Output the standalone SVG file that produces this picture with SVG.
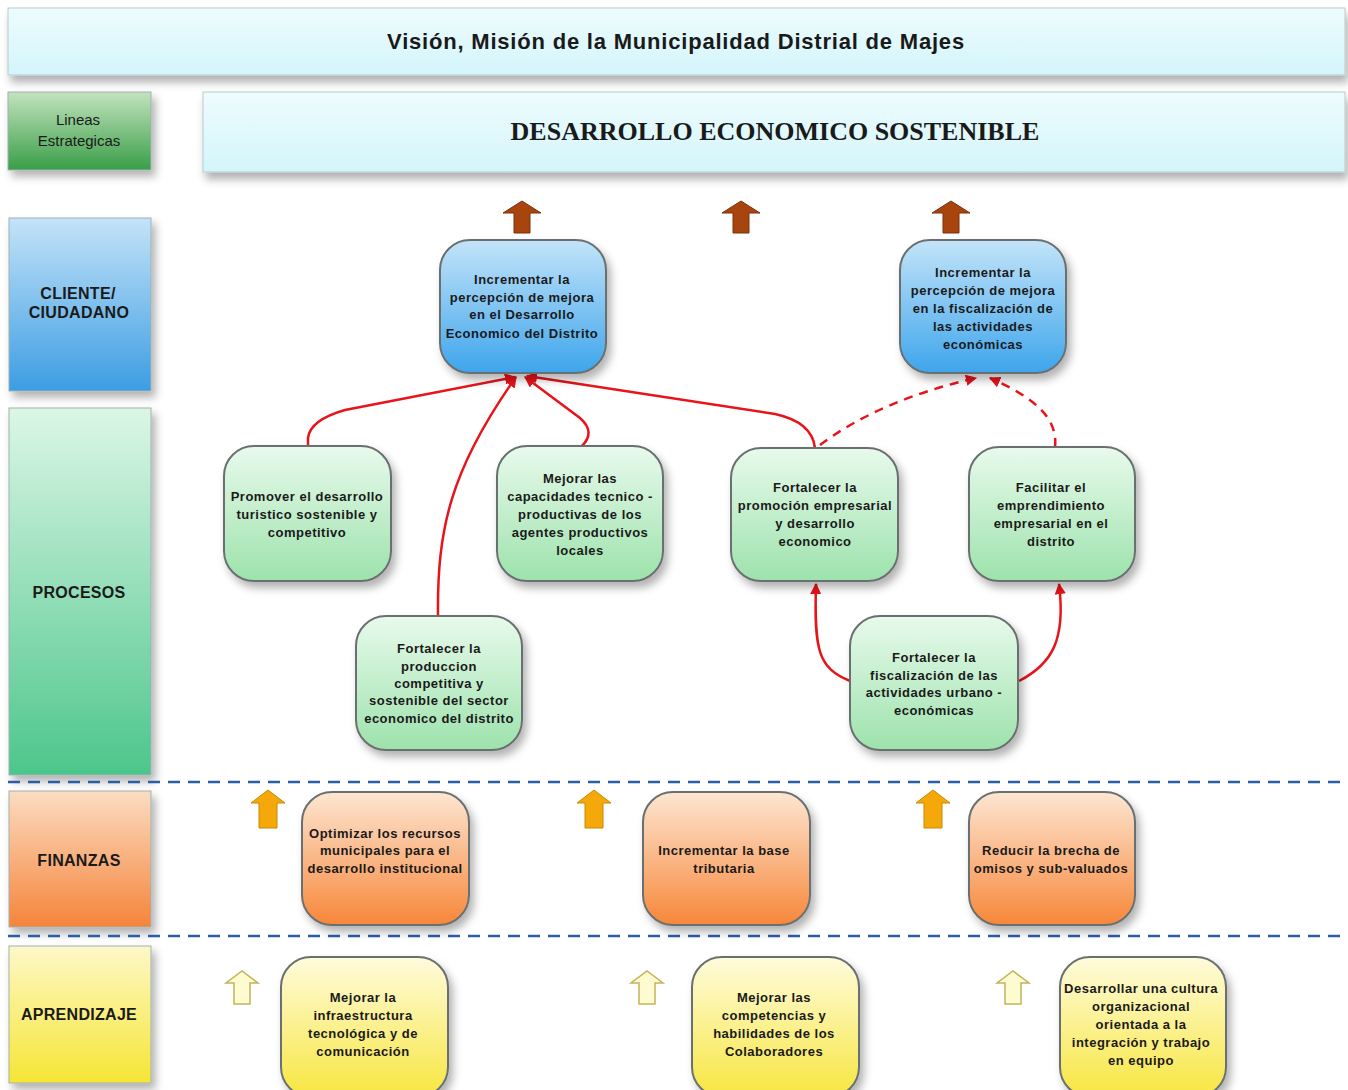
<svg xmlns="http://www.w3.org/2000/svg" width="1348" height="1090" viewBox="0 0 1348 1090">
<defs>
<linearGradient id="gCyan" x1="0" y1="0" x2="0" y2="1"><stop offset="0" stop-color="#eefcfe"/><stop offset="1" stop-color="#d3f5fb"/></linearGradient>
<linearGradient id="gLin" x1="0" y1="0" x2="0" y2="1"><stop offset="0" stop-color="#c2e3bd"/><stop offset="1" stop-color="#3a9e48"/></linearGradient>
<linearGradient id="gCli" x1="0" y1="0" x2="0" y2="1"><stop offset="0" stop-color="#c4e3f8"/><stop offset="1" stop-color="#3c9de3"/></linearGradient>
<linearGradient id="gPro" x1="0" y1="0" x2="0" y2="1"><stop offset="0" stop-color="#dcf6e6"/><stop offset="1" stop-color="#4cc68b"/></linearGradient>
<linearGradient id="gFin" x1="0" y1="0" x2="0" y2="1"><stop offset="0" stop-color="#fcdcc2"/><stop offset="1" stop-color="#f5843a"/></linearGradient>
<linearGradient id="gApr" x1="0" y1="0" x2="0" y2="1"><stop offset="0" stop-color="#fdf8c8"/><stop offset="1" stop-color="#f6e534"/></linearGradient>
<linearGradient id="nBlue" x1="0" y1="0" x2="0" y2="1"><stop offset="0" stop-color="#c3e4f9"/><stop offset="1" stop-color="#3ea5ec"/></linearGradient>
<linearGradient id="nGreen" x1="0" y1="0" x2="0" y2="1"><stop offset="0" stop-color="#e8faec"/><stop offset="1" stop-color="#9de2ac"/></linearGradient>
<linearGradient id="nOrange" x1="0" y1="0" x2="0" y2="1"><stop offset="0" stop-color="#fde6d2"/><stop offset="1" stop-color="#f7873a"/></linearGradient>
<linearGradient id="nYellow" x1="0" y1="0" x2="0" y2="1"><stop offset="0" stop-color="#fffbdc"/><stop offset="1" stop-color="#f7e640"/></linearGradient>
<filter id="sh" x="-20%" y="-20%" width="150%" height="150%"><feDropShadow dx="4" dy="6" stdDeviation="4" flood-color="#000" flood-opacity="0.3"/></filter>
<filter id="shBar" x="-5%" y="-30%" width="110%" height="180%"><feDropShadow dx="3" dy="7" stdDeviation="4" flood-color="#000" flood-opacity="0.3"/></filter>
<marker id="ah" viewBox="0 0 10 10" refX="9" refY="5" markerWidth="4.5" markerHeight="4.5" orient="auto" markerUnits="strokeWidth"><path d="M0,0 L10,5 L0,10 z" fill="#e8141a"/></marker>
</defs>
<style>
.bar{stroke:#b9c9cc;stroke-width:1;filter:url(#shBar)}
.lane{stroke:#9fb0b0;stroke-width:1;filter:url(#sh)}
.node{stroke:#6b7070;stroke-width:2;filter:url(#sh)}
.t{font-family:"Liberation Sans",Arial,sans-serif;font-weight:bold;font-size:13px;letter-spacing:0.5px;fill:#1a1a1a;text-anchor:middle}
.lt{font-family:"Liberation Sans",Arial,sans-serif;font-weight:bold;font-size:16px;letter-spacing:0.3px;fill:#1a1a1a;text-anchor:middle}
.con{fill:none;stroke:#e8141a;stroke-width:2.5;marker-end:url(#ah)}
.dash{stroke-dasharray:9 7}
.sep{stroke:#2a5ea8;stroke-width:2.5;stroke-dasharray:12 8}
.brown{fill:#a8450e;stroke:#7a3008;stroke-width:1}
.orng{fill:#f5a80a;stroke:#c78a00;stroke-width:1}
.ylw{fill:#fffbd0;stroke:#c2b45a;stroke-width:1.5}
</style>

<g id="header">
<rect class="bar" x="8" y="8" width="1337" height="67" fill="url(#gCyan)"/>
<text x="676" y="49" style="font-family:'Liberation Sans',Arial,sans-serif;font-weight:bold;font-size:22px;letter-spacing:0.8px;fill:#1a1a1a;text-anchor:middle">Visión, Misión de la Municipalidad Distrial de Majes</text>
</g>
<g id="lineas">
<rect class="lane" x="8" y="92" width="143" height="78" fill="url(#gLin)"/>
<text x="78" y="125" style="font-family:'Liberation Sans',Arial,sans-serif;font-size:15px;fill:#1a1a1a;text-anchor:middle">Lineas</text>
<text x="79" y="146" style="font-family:'Liberation Sans',Arial,sans-serif;font-size:15px;fill:#1a1a1a;text-anchor:middle">Estrategicas</text>
</g>
<g id="desarrollo">
<rect class="bar" x="203" y="92" width="1142" height="80" fill="url(#gCyan)"/>
<text x="775" y="140" style="font-family:'Liberation Serif','Times New Roman',serif;font-weight:bold;font-size:26px;fill:#1a1a1a;text-anchor:middle">DESARROLLO ECONOMICO SOSTENIBLE</text>
</g>

<g id="lane-cliente"><rect class="lane" x="9" y="218" width="142" height="173" fill="url(#gCli)"/><text class="lt" x="78" y="299">CLIENTE/</text><text class="lt" x="79" y="318">CIUDADANO</text></g>
<g id="lane-procesos"><rect class="lane" x="9" y="408" width="142" height="367" fill="url(#gPro)"/><text class="lt" x="79" y="598">PROCESOS</text></g>
<g id="lane-finanzas"><rect class="lane" x="9" y="791" width="142" height="136" fill="url(#gFin)"/><text class="lt" x="79" y="866">FINANZAS</text></g>
<g id="lane-aprendizaje"><rect class="lane" x="9" y="946" width="142" height="137" fill="url(#gApr)"/><text class="lt" x="79" y="1020">APRENDIZAJE</text></g>

<g id="separators">
<line class="sep" x1="8" y1="782" x2="1340" y2="782"/>
<line class="sep" x1="8" y1="936" x2="1340" y2="936"/>
</g>

<g id="block-arrows">
<path class="brown" d="M514,233 L514,213 L503,213 L522,201 L541,213 L530,213 L530,233 Z"/>
<path class="brown" d="M733,233 L733,213 L722,213 L741,201 L760,213 L749,213 L749,233 Z"/>
<path class="brown" d="M943,233 L943,213 L932,213 L951,201 L970,213 L959,213 L959,233 Z"/>
<path class="orng" d="M259,828 L259,803 L251,803 L268,790 L285,803 L277,803 L277,828 Z"/>
<path class="orng" d="M585,828 L585,803 L577,803 L594,790 L611,803 L603,803 L603,828 Z"/>
<path class="orng" d="M924,828 L924,803 L916,803 L933,790 L950,803 L942,803 L942,828 Z"/>
<path class="ylw" d="M234,1004 L234,983 L226,983 L242,971 L258,983 L250,983 L250,1004 Z"/>
<path class="ylw" d="M639,1004 L639,983 L631,983 L647,971 L663,983 L655,983 L655,1004 Z"/>
<path class="ylw" d="M1005,1004 L1005,983 L997,983 L1013,971 L1029,983 L1021,983 L1021,1004 Z"/>
</g>

<g id="connectors">
<path class="con" d="M308,446 L308,438 Q310,420 345,410 L515,377"/>
<path class="con" d="M438,616 C437,530 450,470 516,377"/>
<path class="con" d="M582,446 Q596,432 580,418 L525,377"/>
<path class="con" d="M815,448 Q812,422 775,414 L527,376"/>
<path class="con dash" d="M820,445 Q880,400 976,378"/>
<path class="con dash" d="M1055,447 C1058,418 1035,398 990,378"/>
<path class="con" d="M850,681 C818,668 814,650 816,584"/>
<path class="con" d="M1019,681 C1052,664 1066,640 1059,584"/>
</g>

<g id="n-cliente1"><rect class="node" x="440" y="240" width="166" height="133" rx="30" fill="url(#nBlue)"/>
<text class="t" x="522" y="284">Incrementar la</text><text class="t" x="522" y="302">percepción de mejora</text><text class="t" x="522" y="319">en el Desarrollo</text><text class="t" x="522" y="338">Economico del Distrito</text></g>
<g id="n-cliente2"><rect class="node" x="900" y="240" width="166" height="133" rx="30" fill="url(#nBlue)"/>
<text class="t" x="983" y="277">Incrementar la</text><text class="t" x="983" y="295">percepción de mejora</text><text class="t" x="983" y="313">en la fiscalización de</text><text class="t" x="983" y="331">las actividades</text><text class="t" x="983" y="349">económicas</text></g>

<g id="n-proc1"><rect class="node" x="224" y="446" width="167" height="135" rx="30" fill="url(#nGreen)"/>
<text class="t" x="307" y="501">Promover el desarrollo</text><text class="t" x="307" y="519">turistico sostenible y</text><text class="t" x="307" y="537">competitivo</text></g>
<g id="n-proc2"><rect class="node" x="497" y="446" width="166" height="135" rx="30" fill="url(#nGreen)"/>
<text class="t" x="580" y="483">Mejorar las</text><text class="t" x="580" y="501">capacidades tecnico -</text><text class="t" x="580" y="519">productivas de los</text><text class="t" x="580" y="537">agentes productivos</text><text class="t" x="580" y="555">locales</text></g>
<g id="n-proc3"><rect class="node" x="731" y="448" width="167" height="133" rx="30" fill="url(#nGreen)"/>
<text class="t" x="815" y="492">Fortalecer la</text><text class="t" x="815" y="510">promoción empresarial</text><text class="t" x="815" y="528">y desarrollo</text><text class="t" x="815" y="546">economico</text></g>
<g id="n-proc4"><rect class="node" x="969" y="447" width="166" height="134" rx="30" fill="url(#nGreen)"/>
<text class="t" x="1051" y="492">Facilitar el</text><text class="t" x="1051" y="510">emprendimiento</text><text class="t" x="1051" y="528">empresarial en el</text><text class="t" x="1051" y="546">distrito</text></g>
<g id="n-proc5"><rect class="node" x="356" y="616" width="166" height="134" rx="30" fill="url(#nGreen)"/>
<text class="t" x="439" y="653">Fortalecer la</text><text class="t" x="439" y="671">produccion</text><text class="t" x="439" y="688">competitiva y</text><text class="t" x="439" y="705">sostenible del sector</text><text class="t" x="439" y="723">economico del distrito</text></g>
<g id="n-proc6"><rect class="node" x="850" y="616" width="168" height="134" rx="30" fill="url(#nGreen)"/>
<text class="t" x="934" y="662">Fortalecer la</text><text class="t" x="934" y="680">fiscalización de las</text><text class="t" x="934" y="697">actividades urbano -</text><text class="t" x="934" y="715">económicas</text></g>

<g id="n-fin1"><rect class="node" x="302" y="792" width="167" height="133" rx="30" fill="url(#nOrange)"/>
<text class="t" x="385" y="838">Optimizar los recursos</text><text class="t" x="385" y="855">municipales para el</text><text class="t" x="385" y="873">desarrollo institucional</text></g>
<g id="n-fin2"><rect class="node" x="643" y="792" width="167" height="133" rx="30" fill="url(#nOrange)"/>
<text class="t" x="724" y="855">Incrementar la base</text><text class="t" x="724" y="873">tributaria</text></g>
<g id="n-fin3"><rect class="node" x="969" y="792" width="166" height="133" rx="30" fill="url(#nOrange)"/>
<text class="t" x="1051" y="855">Reducir la brecha de</text><text class="t" x="1051" y="873">omisos y sub-valuados</text></g>

<g id="n-apr1"><rect class="node" x="281" y="957" width="167" height="140" rx="30" fill="url(#nYellow)"/>
<text class="t" x="363" y="1002">Mejorar la</text><text class="t" x="363" y="1020">infraestructura</text><text class="t" x="363" y="1038">tecnológica y de</text><text class="t" x="363" y="1056">comunicación</text></g>
<g id="n-apr2"><rect class="node" x="692" y="957" width="167" height="140" rx="30" fill="url(#nYellow)"/>
<text class="t" x="774" y="1002">Mejorar las</text><text class="t" x="774" y="1020">competencias y</text><text class="t" x="774" y="1038">habilidades de los</text><text class="t" x="774" y="1056">Colaboradores</text></g>
<g id="n-apr3"><rect class="node" x="1060" y="957" width="166" height="140" rx="30" fill="url(#nYellow)"/>
<text class="t" x="1141" y="993">Desarrollar una cultura</text><text class="t" x="1141" y="1011">organizacional</text><text class="t" x="1141" y="1029">orientada a la</text><text class="t" x="1141" y="1047">integración y trabajo</text><text class="t" x="1141" y="1065">en equipo</text></g>
</svg>
